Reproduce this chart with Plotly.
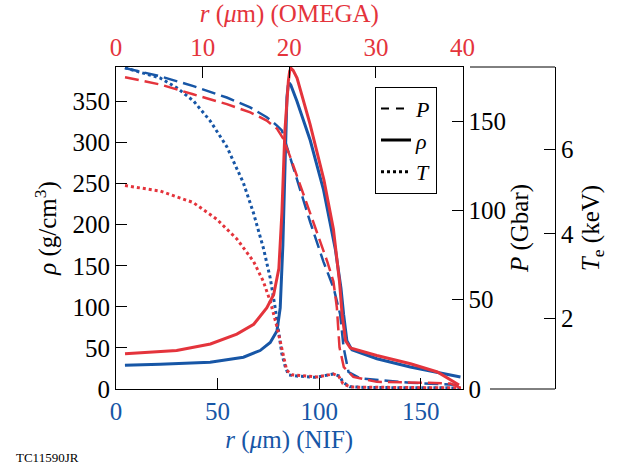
import plotly.graph_objects as go

# ---- data ----
# NIF (blue), radius in um (bottom axis)
nif_rho_r = [4.4, 21.7, 46.3, 62.7, 70.9, 75.9, 79.2, 80.8, 82.1, 83.3, 84.1, 84.7, 85.2, 86.0, 89.0, 95.6,
             102.1, 107.9, 110.7, 112.0, 113.6, 116.1, 128.4, 144.8, 161.2, 169.5]
nif_rho = [28.8, 30.0, 32.7, 38.7, 46.8, 56.7, 70.7, 98.7, 174.7, 294.6, 355.0, 369.0, 372.5, 370.0, 350.5, 302.5,
           242.6, 170.6, 122.7, 90.8, 58.8, 47.6, 36.8, 26.7, 18.8, 14.7]

nif_p_r = [4.4, 21.7, 38.1, 54.5, 66.0, 74.2, 79.2, 81.6, 84.1, 89.0, 95.6, 102.1, 107.1,
           110.3, 112.0, 114.4, 120.2, 144.8, 169.5]
nif_p = [179.7, 175.1, 169.6, 163.2, 157.7, 152.2, 147.5, 144.8, 135.6, 117.2, 93.3, 71.2, 56.5,
         41.8, 23.3, 9.5, 5.9, 3.5, 2.2]

nif_t_r = [4.4, 21.7, 29.9, 38.1, 46.3, 54.5, 62.7, 67.6, 72.6, 75.9, 78.3, 80.0, 81.6, 83.3,
           84.9, 89.0, 98.5, 106.7, 110.0, 111.6, 115.0, 123.3, 169.5]
nif_t = [7.92, 7.68, 7.45, 7.14, 6.67, 6.06, 5.20, 4.50, 3.65, 2.95, 2.26, 1.64, 1.17, 0.86,
         0.67, 0.64, 0.61, 0.69, 0.64, 0.50, 0.39, 0.37, 0.36]

# OMEGA (red), radius in um (top axis)
om_rho_r = [1.04, 7.0, 10.9, 13.95, 15.9, 17.4, 18.2, 18.8, 19.15, 19.5, 19.9, 20.05, 20.2, 20.45, 20.9, 22.4,
            24.0, 25.1, 25.8, 26.1, 26.5, 27.05, 30.1, 34.0, 37.1, 38.6, 39.6]
om_rho = [42.8, 46.8, 54.8, 66.8, 78.8, 98.7, 114.7, 146.6, 214.6, 314.5, 375.0, 387.0, 390.5, 388.0, 378.5, 322.5,
          254.6, 194.6, 130.7, 90.8, 58.8, 50.0, 40.8, 30.8, 20.7, 10.8, 4.8]

om_p_r = [1.04, 5.1, 8.9, 12.8, 15.5, 17.4, 18.6, 19.3, 20.1, 21.3, 22.8, 24.4, 25.1, 25.5,
          25.8, 26.3, 27.4, 30.1, 35.9, 38.6, 39.8]
om_p = [174.6, 170.5, 165.0, 159.5, 154.9, 150.3, 145.7, 140.2, 130.1, 113.5, 93.3, 71.2, 60.2,
        45.4, 23.3, 12.3, 6.8, 4.0, 3.5, 3.1, 0.5]

om_t_r = [1.04, 5.1, 8.9, 11.6, 13.95, 15.9, 17.0, 17.8, 18.6, 19.15, 19.7, 20.3, 23.2, 25.1,
          25.7, 26.2, 27.05, 39.8]
om_t = [5.14, 5.01, 4.74, 4.35, 3.88, 3.34, 2.88, 2.41, 1.79, 1.25, 0.78, 0.67, 0.62, 0.69,
        0.64, 0.46, 0.38, 0.36]

nif_ticks = [0, 50, 100, 150]
om_ticks = [0, 10, 20, 30, 40]
rho_ticks = [0, 50, 100, 150, 200, 250, 300, 350]
p_ticks = [0, 50, 100, 150]
t_ticks = [2, 4, 6]

RED = "#E4343C"
BLUE = "#1756A6"
FONT = "Liberation Serif"
FS = 25

fig = go.Figure()

# NIF curves
fig.add_trace(go.Scatter(x=nif_rho_r, y=nif_rho, mode="lines", line=dict(color=BLUE, width=3),
                         xaxis="x", yaxis="y", showlegend=False))
fig.add_trace(go.Scatter(x=nif_p_r, y=nif_p, mode="lines", line=dict(color=BLUE, width=2.5, dash="14px,6px"),
                         xaxis="x", yaxis="y2", showlegend=False))
fig.add_trace(go.Scatter(x=nif_t_r, y=nif_t, mode="lines", line=dict(color=BLUE, width=3, dash="dot"),
                         xaxis="x", yaxis="y3", showlegend=False))
# OMEGA curves
fig.add_trace(go.Scatter(x=om_rho_r, y=om_rho, mode="lines", line=dict(color=RED, width=3),
                         xaxis="x2", yaxis="y", showlegend=False))
fig.add_trace(go.Scatter(x=om_p_r, y=om_p, mode="lines", line=dict(color=RED, width=2.5, dash="14px,6px"),
                         xaxis="x2", yaxis="y2", showlegend=False))
fig.add_trace(go.Scatter(x=om_t_r, y=om_t, mode="lines", line=dict(color=RED, width=3, dash="dot"),
                         xaxis="x2", yaxis="y3", showlegend=False))

# legend entries (black)
fig.add_trace(go.Scatter(x=[None], y=[None], mode="lines", line=dict(color="black", width=2, dash="8px,7px"),
                         name="<i>P</i>", xaxis="x", yaxis="y"))
fig.add_trace(go.Scatter(x=[None], y=[None], mode="lines", line=dict(color="black", width=3),
                         name="<i>ρ</i>", xaxis="x", yaxis="y"))
fig.add_trace(go.Scatter(x=[None], y=[None], mode="lines", line=dict(color="black", width=3, dash="dot"),
                         name="<i>T</i>", xaxis="x", yaxis="y"))

dom_end = (462.5 - 116) / 439.0

common = dict(showgrid=False, zeroline=False, showline=True, linecolor="black", linewidth=1,
              ticks="inside", ticklen=11, tickcolor="black", tickwidth=1)

fig.update_layout(
    width=620, height=471,
    margin=dict(l=116, r=65, t=62, b=82),
    paper_bgcolor="white", plot_bgcolor="white",
    font=dict(family=FONT, size=FS, color="black"),
    xaxis=dict(domain=[0, dom_end], range=[0, 170.5], tickvals=nif_ticks, anchor="y",
               tickfont=dict(family=FONT, color=BLUE, size=FS),
               title=dict(text="<i>r</i> (<i>μ</i>m) (NIF)", font=dict(family=FONT, color=BLUE, size=FS), standoff=6),
               **common),
    xaxis2=dict(overlaying="x", side="top", range=[0, 40], tickvals=om_ticks, anchor="y",
                tickfont=dict(family=FONT, color=RED, size=FS),
                title=dict(text="<i>r</i> (<i>μ</i>m) (OMEGA)", font=dict(family=FONT, color=RED, size=FS), standoff=4),
                **common),
    yaxis=dict(range=[0, 392], tickvals=rho_ticks, anchor="x",
               tickfont=dict(family=FONT, size=FS),
               title=dict(text="<i>ρ</i> (g/cm<sup>3</sup>)", font=dict(family=FONT, size=FS), standoff=8),
               **common),
    yaxis2=dict(overlaying="y", side="right", anchor="x", range=[0, 180.3], tickvals=p_ticks,
                tickfont=dict(family=FONT, size=FS),
                title=dict(text="<i>P</i> (Gbar)", font=dict(family=FONT, size=FS), standoff=4),
                **common),
    yaxis3=dict(overlaying="y", side="right", anchor="free", position=1.0, range=[0.335, 7.94],
                tickvals=t_ticks,
                tickfont=dict(family=FONT, size=FS),
                title=dict(text="<i>T</i><sub>e</sub> (keV)", font=dict(family=FONT, size=FS), standoff=8),
                **common),
    legend=dict(x=(375 - 116) / 439.0, y=(389 - 82) / 327.0, xanchor="left", yanchor="top",
                bgcolor="white", bordercolor="black", borderwidth=1,
                font=dict(family=FONT, size=22, color="black")),
    showlegend=True,
)

# Te axis box lines (top and bottom)
fig.add_shape(type="line", xref="paper", yref="paper", x0=(470 - 116) / 439.0, x1=1.0, y0=1, y1=1,
              line=dict(color="black", width=1))
fig.add_shape(type="line", xref="paper", yref="paper", x0=(490 - 116) / 439.0, x1=1.0, y0=0, y1=0,
              line=dict(color="black", width=1))

fig.add_annotation(text="TC11590JR", xref="paper", yref="paper", x=(14 - 116) / 439.0, y=(389 - 459) / 327.0,
                   xanchor="left", yanchor="middle", showarrow=False,
                   font=dict(family=FONT, size=13, color="black"))

fig.write_html("out.html")
